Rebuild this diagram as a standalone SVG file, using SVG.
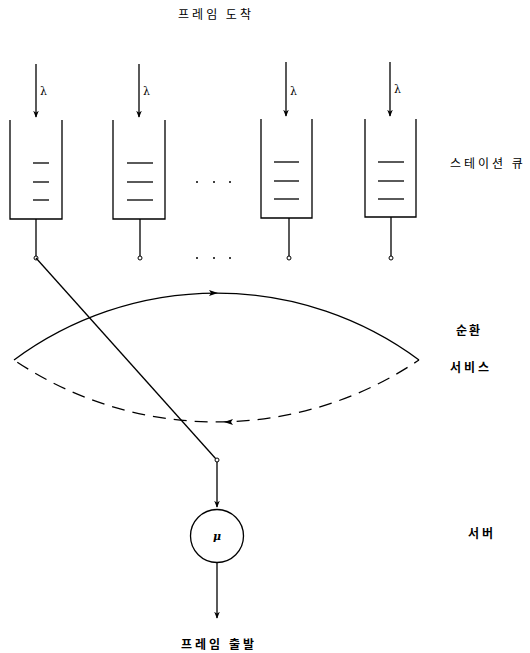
<svg xmlns="http://www.w3.org/2000/svg" width="530" height="653" viewBox="0 0 530 653">
<defs>
<style>
.ln{stroke:#000;stroke-width:1.3;fill:none}
.q{stroke:#000;stroke-width:1.3;fill:none}
.t{font-family:"Noto Sans CJK KR","Noto Sans",sans-serif;font-size:12px;fill:#000}
.b{font-weight:bold}
.g{font-family:"DejaVu Serif","Liberation Serif",serif;font-size:11px;fill:#000}
.dot{fill:#000}
</style>
<marker id="ah" viewBox="0 0 10 10" refX="9" refY="5" markerWidth="7" markerHeight="7" orient="auto" markerUnits="userSpaceOnUse">
<path d="M0,1 L10,5 L0,9 L3,5 Z" fill="#000"/>
</marker>
</defs>
<rect width="530" height="653" fill="#fff"/>

<text class="t" x="216" y="19" text-anchor="middle" font-size="13" letter-spacing="3">프레임 도착</text>

<g id="queue1">
<line class="ln" x1="36" y1="64" x2="36" y2="117" marker-end="url(#ah)"/>
<text class="g" x="40" y="95">λ</text>
<path class="q" d="M10,120 V219 H62 V120"/>
<line class="ln" x1="33" y1="163" x2="49" y2="163"/>
<line class="ln" x1="33" y1="182" x2="49" y2="182"/>
<line class="ln" x1="33" y1="200" x2="49" y2="200"/>
<line class="ln" x1="36" y1="219" x2="36" y2="256"/>
<circle cx="36" cy="258" r="2" fill="#fff" stroke="#000" stroke-width="1"/>
</g>
<g id="queue2">
<line class="ln" x1="139" y1="64" x2="139" y2="117" marker-end="url(#ah)"/>
<text class="g" x="143" y="95">λ</text>
<path class="q" d="M113,120 V219 H165 V120"/>
<line class="ln" x1="127" y1="163" x2="153" y2="163"/>
<line class="ln" x1="127" y1="182" x2="153" y2="182"/>
<line class="ln" x1="127" y1="200" x2="153" y2="200"/>
<line class="ln" x1="140" y1="219" x2="140" y2="256"/>
<circle cx="140" cy="258" r="2" fill="#fff" stroke="#000" stroke-width="1"/>
</g>
<g id="queue3">
<line class="ln" x1="286" y1="62" x2="286" y2="116" marker-end="url(#ah)"/>
<text class="g" x="290" y="95">λ</text>
<path class="q" d="M261,119 V218 H312 V119"/>
<line class="ln" x1="274" y1="162" x2="299" y2="162"/>
<line class="ln" x1="274" y1="181" x2="299" y2="181"/>
<line class="ln" x1="274" y1="199" x2="299" y2="199"/>
<line class="ln" x1="289" y1="218" x2="289" y2="256"/>
<circle cx="289" cy="258" r="2" fill="#fff" stroke="#000" stroke-width="1"/>
</g>
<g id="queue4">
<line class="ln" x1="390" y1="62" x2="390" y2="116" marker-end="url(#ah)"/>
<text class="g" x="394" y="93">λ</text>
<path class="q" d="M365,119 V217 H416 V119"/>
<line class="ln" x1="378" y1="162" x2="404" y2="162"/>
<line class="ln" x1="378" y1="181" x2="404" y2="181"/>
<line class="ln" x1="378" y1="199" x2="404" y2="199"/>
<line class="ln" x1="391" y1="217" x2="391" y2="256"/>
<circle cx="391" cy="258" r="2" fill="#fff" stroke="#000" stroke-width="1"/>
</g>

<g id="ellipsis">
<circle class="dot" cx="197" cy="182" r="1"/>
<circle class="dot" cx="214" cy="182" r="1"/>
<circle class="dot" cx="230" cy="182" r="1"/>
<circle class="dot" cx="197" cy="258" r="1"/>
<circle class="dot" cx="214" cy="258" r="1"/>
<circle class="dot" cx="230" cy="258" r="1"/>
</g>

<text class="t" x="450" y="168" letter-spacing="3">스테이션 큐</text>

<g id="cycle">
<path class="ln" d="M14,360 A340,340 0 0 1 419,360"/>
<path class="ln" d="M14,360 A362,362 0 0 0 419,360" stroke-dasharray="13,8" stroke-dashoffset="-4"/>
<path d="M209,290 L218,293 L209,296 L211,293 Z" fill="#000"/>
<path d="M233,419 L224,422 L233,425 L231,422 Z" fill="#000"/>
</g>
<text class="t b" x="456" y="335" letter-spacing="2">순환</text>
<text class="t b" x="450" y="372" letter-spacing="3">서비스</text>

<g id="connectors">
<line class="ln" x1="36" y1="258" x2="216" y2="459"/>
<line class="ln" x1="217" y1="460" x2="217" y2="507" marker-end="url(#ah)"/>
<line class="ln" x1="217" y1="563" x2="217" y2="618" marker-end="url(#ah)"/>
</g>
<circle cx="217" cy="460" r="2" fill="#fff" stroke="#000" stroke-width="1"/>

<g id="server">
<circle cx="217" cy="536" r="26.5" fill="#fff" stroke="#000" stroke-width="1.3"/>
<text class="g" x="217" y="540" text-anchor="middle" font-style="italic" font-weight="bold">μ</text>
</g>
<text class="t b" x="468" y="538" letter-spacing="3">서버</text>
<text class="t b" x="219" y="649" text-anchor="middle" letter-spacing="3">프레임 출발</text>
</svg>
